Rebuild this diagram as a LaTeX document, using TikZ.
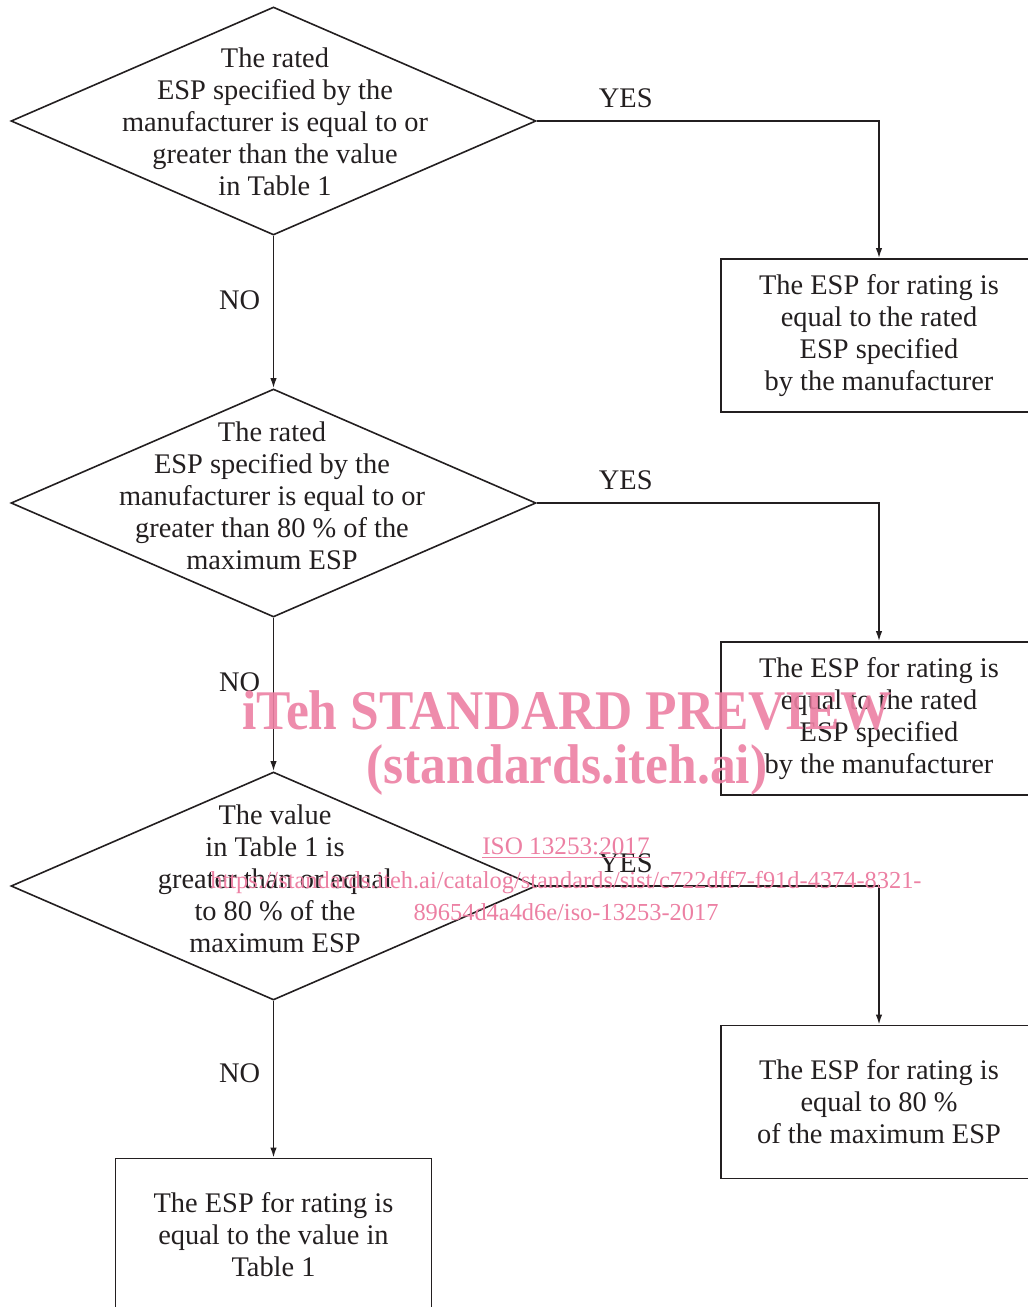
\documentclass[tikz,border=0pt]{standalone}
\usepackage{fontspec}
\setmainfont{Liberation Serif}
\usetikzlibrary{shapes.geometric,arrows.meta,positioning}
\definecolor{wmpink}{RGB}{236,128,163}
\definecolor{ink}{RGB}{35,31,32}

\begin{document}
\begin{tikzpicture}[x=0.5pt,y=-0.5pt,line width=0.8pt,draw=ink,text=ink,
  decision/.style={diamond,draw,minimum width=262.5pt,minimum height=114pt,inner sep=0pt},
  qtext/.style={align=center,font=\fontsize{14.2}{16}\selectfont},
  result/.style={rectangle,draw,minimum width=158pt,minimum height=76.5pt,align=center,font=\fontsize{14.2}{16}\selectfont},
  flow/.style={-{Latex[length=5pt,width=3.2pt]}},
  lbl/.style={font=\fontsize{14.2}{16}\selectfont},
  wm/.style={text=wmpink,opacity=0.9,font=\bfseries\fontsize{28}{30}\selectfont,xscale=0.92}]
\clip (0,0) rectangle (1028,1307);

\node[decision] (q1) at (273.5,121) {};
\node[qtext] (t1) at (275,122) {The rated\\ESP specified by the\\manufacturer is equal to or\\greater than the value\\in Table 1};
\node[decision] (q2) at (273.5,503) {};
\node[qtext] (t2) at (272,496) {The rated\\ESP specified by the\\manufacturer is equal to or\\greater than 80 \% of the\\maximum ESP};
\node[decision] (q3) at (273.5,886) {};
\node[qtext] (t3) at (275,879) {The value\\in Table 1 is\\greater than or equal\\to 80 \% of the\\maximum ESP};

\node[result] (r1) at (879,335.5) {The ESP for rating is\\equal to the rated\\ESP specified\\by the manufacturer};
\node[result] (r2) at (879,718.5) {The ESP for rating is\\equal to the rated\\ESP specified\\by the manufacturer};
\node[result] (r3) at (879,1102) {The ESP for rating is\\equal to 80 \%\\of the maximum ESP};
\node[result] (r4) at (273.5,1235) {The ESP for rating is\\equal to the value in\\Table 1};

\draw[flow] (q1.east) -| node[pos=0.13,above,lbl,yshift=3pt] {YES} (r1.north);
\draw[flow] (q2.east) -| node[pos=0.13,above,lbl,yshift=3pt] {YES} (r2.north);
\draw[flow] (q3.east) -| node[pos=0.13,above,lbl,yshift=3pt] {YES} (r3.north);
\draw[flow] (q1.south) -- node[pos=0.42,left,lbl,xshift=-3pt] {NO} (q2.north);
\draw[flow] (q2.south) -- node[pos=0.42,left,lbl,xshift=-3pt] {NO} (q3.north);
\draw[flow] (q3.south) -- node[pos=0.46,left,lbl,xshift=-3pt] {NO} (r4.north);

% watermark
\node[wm] (w1) at (567,710) {iTeh STANDARD PREVIEW};
\node[wm] (w2) at (567,770) {(standards.iteh.ai)};
\node[text=wmpink,font=\fontsize{12.6}{14}\selectfont] (w3) at (566,848) {\underline{ISO 13253:2017}};
\node[text=wmpink,font=\fontsize{12.2}{16}\selectfont,align=center] (w4) at (566,896)
  {https://standards.iteh.ai/catalog/standards/sist/c722dff7-f91d-4374-8321-\\89654d4a4d6e/iso-13253-2017};
\end{tikzpicture}
\end{document}
